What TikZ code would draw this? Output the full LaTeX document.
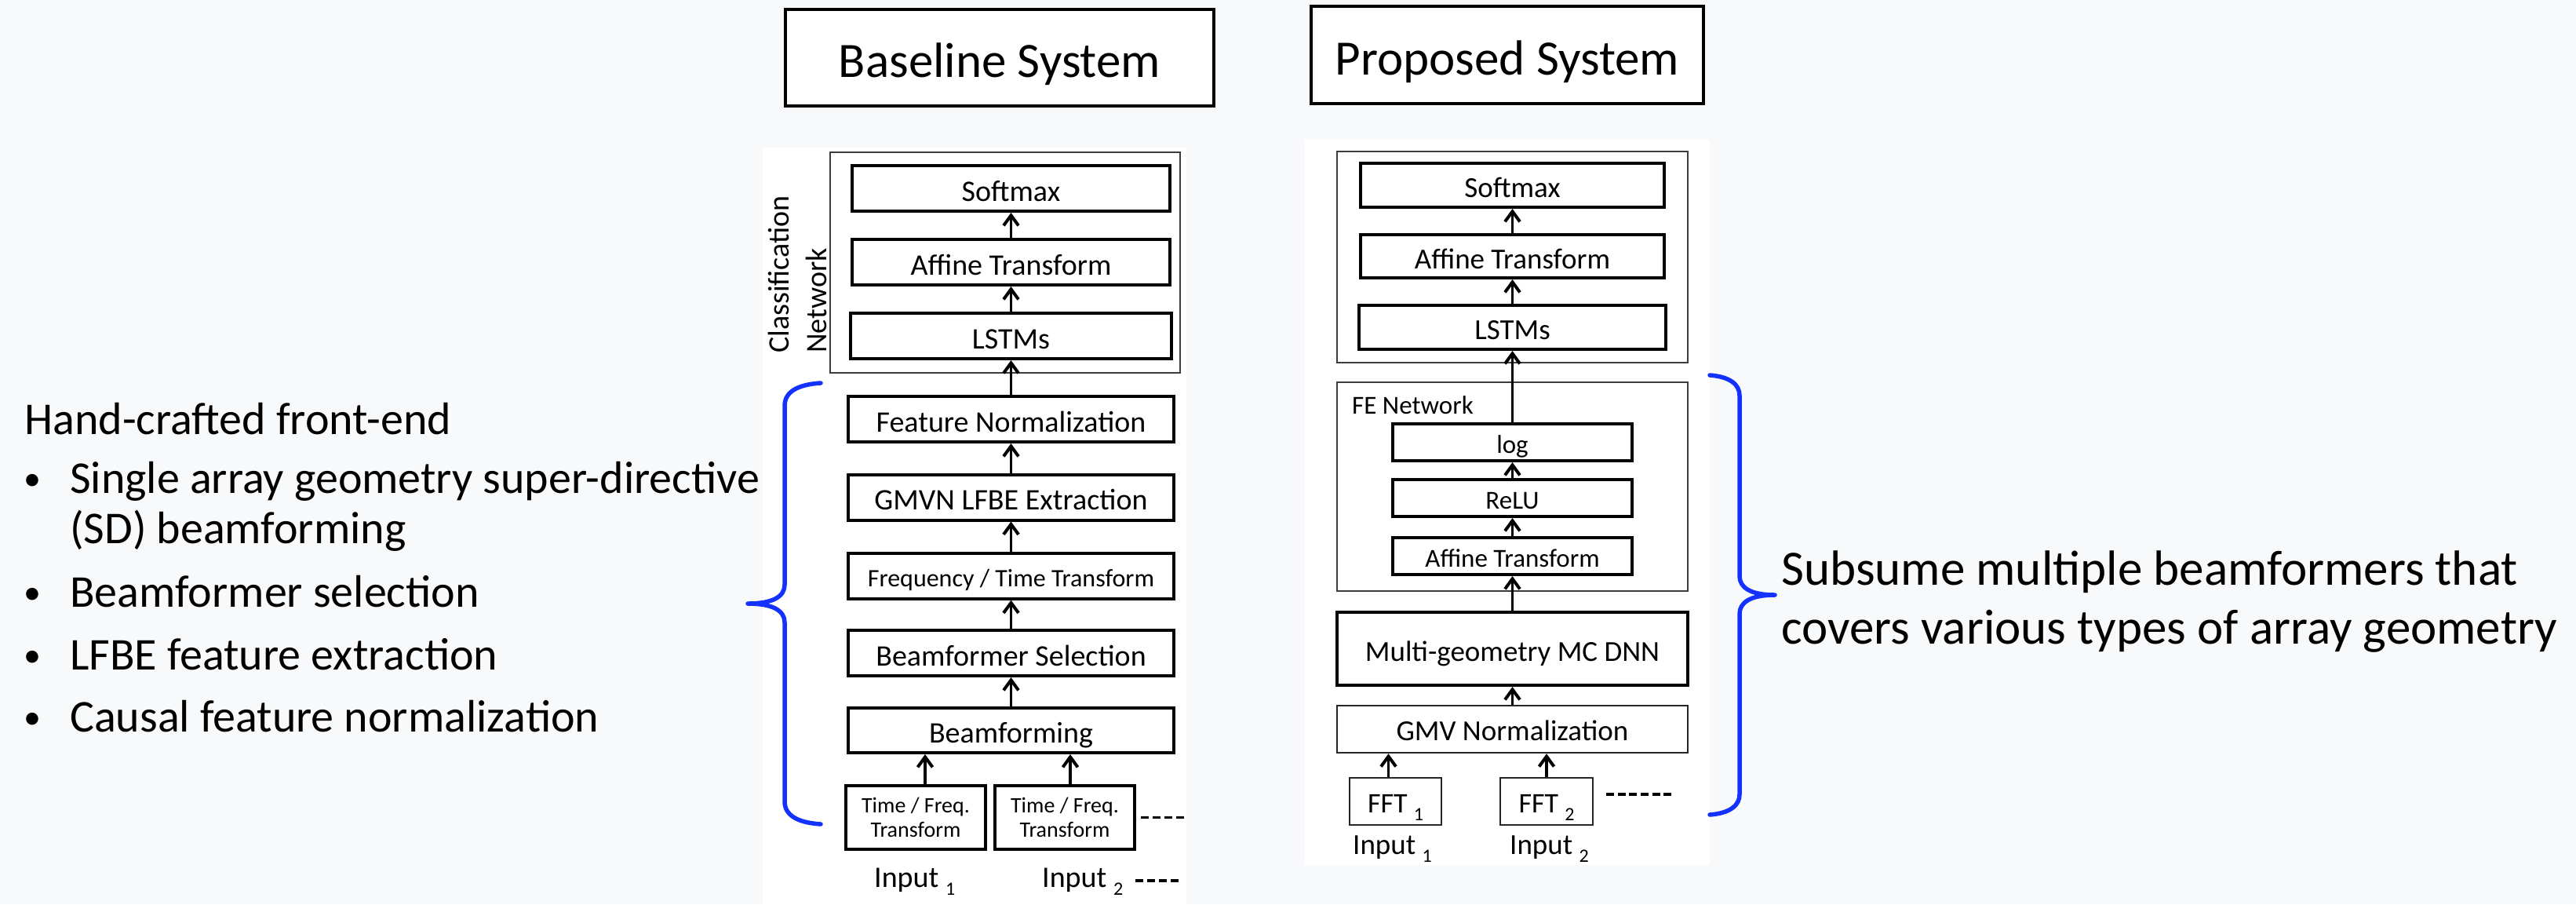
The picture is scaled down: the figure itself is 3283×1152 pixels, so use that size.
\documentclass[tikz,border=0pt]{standalone}
\usepackage{fontspec}
\setmainfont{Carlito}
\usetikzlibrary{arrows.meta}
\definecolor{bgc}{RGB}{248,249,250}
\definecolor{braceblue}{RGB}{20,50,255}
\definecolor{grpc}{RGB}{60,60,60}
\newcommand{\mysub}[1]{\smash{\raisebox{-10pt}{\fontsize{24}{24}\selectfont #1}}}
\tikzset{
  thickbox/.style={draw=black, line width=4pt, fill=white, inner sep=0pt, text depth=0pt},
  bigL/.style={thickbox, minimum height=58pt, font=\fontsize{38}{46}\selectfont, text height=32pt},
  bigR/.style={thickbox, font=\fontsize{37}{44}\selectfont, text height=31pt},
  feinner/.style={thickbox, minimum width=305pt, minimum height=47pt, font=\fontsize{33}{40}\selectfont, text height=27pt},
  tfbox/.style={draw=black, line width=4pt, fill=white, inner sep=0pt, minimum width=178pt, minimum height=81pt, align=center, font=\fontsize{28}{31}\selectfont},
  thinbox/.style={draw=black!85, line width=2.4pt, fill=white, inner sep=0pt, text depth=0pt, text height=28pt},
  grpbox/.style={draw=grpc, line width=2pt, inner sep=0pt},
  titlebox/.style={draw=black, line width=4.5pt, fill=white, inner sep=0pt, text depth=0pt, font=\fontsize{63}{76}\selectfont},
  inlab/.style={anchor=base west, inner sep=0pt},
  sidetext/.style={anchor=base west, inner sep=0pt},
  bullet/.style={anchor=base west, inner sep=0pt, font=\fontsize{44}{50}\selectfont},
  arr/.style={line width=3.5pt, -{Straight Barb[length=13pt,width=19pt,line width=4pt]}},
  bracestyle/.style={draw=braceblue, line width=5.5pt, line cap=round, line join=round},
  dashln/.style={line width=3.5pt},
}
\begin{document}
\begin{tikzpicture}[x=1pt,y=1pt]
\useasboundingbox (0,0) rectangle (3283,-1152);
\fill[bgc] (0,0) rectangle (3283,-1152);
\fill[white] (972,-188) rectangle (1512,-1152);
\fill[white] (1663,-178) rectangle (2179,-1102);

% titles
\node[titlebox, minimum width=546pt, minimum height=123pt, text height=49pt] (tBase) at (1274,-73.5) {Baseline System};
\node[titlebox, minimum width=500pt, minimum height=124pt, text height=50pt] (tProp) at (1921,-70) {Proposed System};

% group boxes
\node[grpbox, minimum width=446pt, minimum height=281pt] (clsBoxL) at (1281,-334.5) {};
\node[grpbox, minimum width=447pt, minimum height=269pt] (clsBoxR) at (1927.5,-327.5) {};
\node[grpbox, minimum width=447pt, minimum height=266pt] (feBox) at (1927.5,-620) {};

% left column
\node[rotate=90, anchor=south west, align=left, inner sep=0pt, font=\fontsize{38}{48}\selectfont] (clsLab) at (1054,-450) {Classification\\Network};
\node[bigL, minimum width=405pt] (smL) at (1288.5,-240) {Softmax};
\node[bigL, minimum width=405pt] (afL) at (1288.5,-334) {Affine Transform};
\node[bigL, minimum width=409pt] (lsL) at (1288.5,-428) {LSTMs};
\node[bigL, minimum width=415pt] (fnL) at (1288.5,-534) {Feature Normalization};
\node[bigL, minimum width=415pt] (gmL) at (1288.5,-633.5) {GMVN LFBE Extraction};
\node[bigL, minimum width=415pt, font=\fontsize{32}{38}\selectfont, text height=27pt] (ftL) at (1288.5,-733.5) {Frequency / Time Transform};
\node[bigL, minimum width=415pt] (bsL) at (1288.5,-832) {Beamformer Selection};
\node[bigL, minimum width=415pt, minimum height=57pt] (bfL) at (1288.5,-930.5) {Beamforming};
\node[tfbox] (tf1) at (1167,-1041.5) {Time / Freq.\\Transform};
\node[tfbox] (tf2) at (1357,-1041.5) {Time / Freq.\\Transform};
\node[inlab, font=\fontsize{38}{46}\selectfont] (in1L) at (1114,-1130) {Input \mysub{1}};
\node[inlab, font=\fontsize{38}{46}\selectfont] (in2L) at (1328,-1130) {Input \mysub{2}};

\draw[arr] (afL.north) -- (smL.south);
\draw[arr] (lsL.north) -- (afL.south);
\draw[arr] (fnL.north) -- (lsL.south);
\draw[arr] (gmL.north) -- (fnL.south);
\draw[arr] (ftL.north) -- (gmL.south);
\draw[arr] (bsL.north) -- (ftL.south);
\draw[arr] (bfL.north) -- (bsL.south);
\coordinate (t1top) at ([xshift=12pt]tf1.north);
\coordinate (t2top) at ([xshift=7pt]tf2.north);
\draw[arr] (t1top) -- (t1top |- bfL.south);
\draw[arr] (t2top) -- (t2top |- bfL.south);
\draw[dashln, dash pattern=on 10pt off 5pt] ([xshift=6pt]tf2.east) -- ++(57,0);
\draw[dashln, dash pattern=on 10pt off 5pt] ([shift={(16,8)}]in2L.base east) -- ++(56,0);

% right column
\node[bigR, minimum width=387pt, minimum height=56pt] (smR) at (1927.5,-236) {Softmax};
\node[bigR, minimum width=387pt, minimum height=55pt] (afR) at (1927.5,-326.5) {Affine Transform};
\node[bigR, minimum width=391pt, minimum height=56pt] (lsR) at (1927.5,-417) {LSTMs};
\node[inlab, font=\fontsize{33}{40}\selectfont] (feLab) at (1723,-527) {FE Network};
\node[feinner] (logR) at (1927.5,-563.5) {log};
\node[feinner] (reluR) at (1927.5,-634.5) {ReLU};
\node[feinner] (afFE) at (1927.5,-708.5) {Affine Transform};
\node[bigR, minimum width=447pt, minimum height=93pt] (mgR) at (1927.5,-826.5) {Multi-geometry MC DNN};
\node[thinbox, minimum width=447pt, minimum height=60pt, font=\fontsize{37}{44}\selectfont] (gvR) at (1927.5,-929) {GMV Normalization};
\node[thinbox, minimum width=117pt, minimum height=60pt, font=\fontsize{36}{44}\selectfont] (fft1) at (1778.5,-1021) {FFT \mysub{1}};
\node[thinbox, minimum width=118pt, minimum height=60pt, font=\fontsize{36}{44}\selectfont] (fft2) at (1971,-1021) {FFT \mysub{2}};
\node[inlab, font=\fontsize{37}{44}\selectfont] (in1R) at (1724,-1088) {Input \mysub{1}};
\node[inlab, font=\fontsize{37}{44}\selectfont] (in2R) at (1924,-1088) {Input \mysub{2}};

\draw[arr] (afR.north) -- (smR.south);
\draw[arr] (lsR.north) -- (afR.south);
\draw[arr] (logR.north) -- (lsR.south);
\draw[arr] (reluR.north) -- (logR.south);
\draw[arr] (afFE.north) -- (reluR.south);
\draw[arr] (mgR.north) -- (afFE.south);
\draw[arr] (gvR.north) -- (mgR.south);
\coordinate (f1top) at ([xshift=-9pt]fft1.north);
\draw[arr] (f1top) -- (f1top |- gvR.south);
\draw[arr] (fft2.north) -- (gvR.south -| fft2.north);
\draw[dashln, dash pattern=on 10pt off 4.6pt] ([shift={(16,9)}]fft2.east) -- ++(83,0);

% braces
\draw[bracestyle] (1046,-488) .. controls (1015,-490) and (1000,-500) .. (1000,-517) -- (1000,-745)
  .. controls (1000,-760) and (985,-769) .. (953,-769)
  .. controls (985,-769) and (1000,-778) .. (1000,-793) -- (1000,-1021)
  .. controls (1000,-1038) and (1015,-1048) .. (1046,-1050);
\draw[bracestyle] (2179,-478) .. controls (2205,-480) and (2217,-490) .. (2217,-504) -- (2217,-734)
  .. controls (2217,-748) and (2230,-758) .. (2262,-758)
  .. controls (2230,-758) and (2217,-768) .. (2217,-782) -- (2217,-1012)
  .. controls (2217,-1026) and (2205,-1036) .. (2179,-1038);

% left description
\begin{scope}[every node/.style={sidetext, font=\fontsize{58}{70}\selectfont}]
\node (lhead) at (31,-553) {Hand-crafted front-end};
\node[bullet] (b1) at (30,-624) {•};
\node (l1) at (89,-628) {Single array geometry super-directive};
\node (l1b) at (89,-692) {(SD) beamforming};
\node[bullet] (b2) at (30,-769) {•};
\node (l2) at (89,-773) {Beamformer selection};
\node[bullet] (b3) at (30,-849) {•};
\node (l3) at (89,-853) {LFBE feature extraction};
\node[bullet] (b4) at (30,-928) {•};
\node (l4) at (89,-932) {Causal feature normalization};
\end{scope}

% right description
\begin{scope}[every node/.style={sidetext, font=\fontsize{63}{76}\selectfont}]
\node (r1) at (2270,-745) {Subsume multiple beamformers that};
\node (r2) at (2270,-820) {covers various types of array geometry};
\end{scope}
\end{tikzpicture}
\end{document}
